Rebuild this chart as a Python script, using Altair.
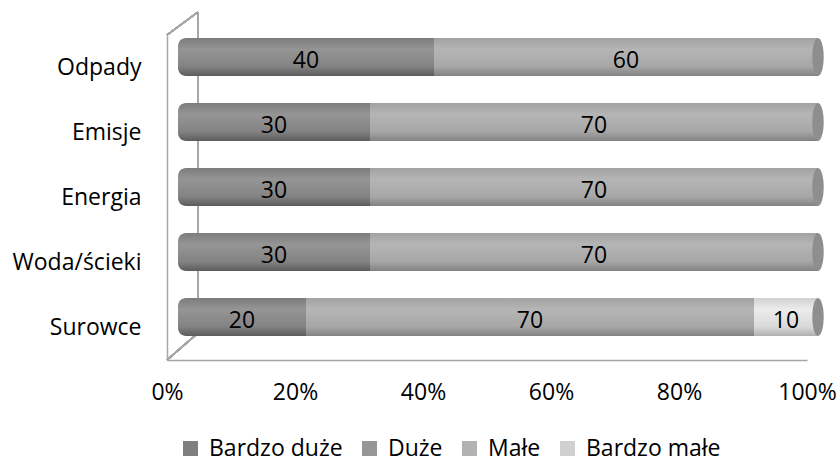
import altair as alt
import pandas as pd
import numpy as np

categories = ["Odpady", "Emisje", "Energia", "Woda/ścieki", "Surowce"]
series = ["Bardzo duże", "Duże", "Małe", "Bardzo małe"]
bardzo_duze = [0, 0, 0, 0, 0]
duze = [40, 30, 30, 30, 20]
male = [60, 70, 70, 70, 70]
bardzo_male = [0, 0, 0, 0, 10]
tick_values = [0, 0.2, 0.4, 0.6, 0.8, 1.0]

legend_colors = ["#7f7f7f", "#969696", "#b2b2b2", "#d0d0d0"]

vals = np.array([bardzo_duze, duze, male, bardzo_male], dtype=float)  # series x cats
totals = vals.sum(axis=0)
rows = []
for j, c in enumerate(categories):
    cum = 0.0
    for i, s in enumerate(series):
        v = vals[i, j]
        start = cum / totals[j]
        cum += v
        end = cum / totals[j]
        rows.append({"cat": c, "series": s, "value": v, "start": start,
                     "end": end, "mid": (start + end) / 2})
df = pd.DataFrame(rows)

FONT = "Open Sans"
FS = 23
XOFF = 11
YOFF = -10.5
BAR = 38

def grad(stops):
    return alt.Gradient(
        gradient="linear", x1=0, x2=0, y1=0, y2=1,
        stops=[alt.GradientStop(offset=o, color=c) for o, c in stops],
    )

fills = {
    "Bardzo duże": grad([(0, "#6a6a6a"), (0.3, "#858585"), (0.75, "#707070"), (1, "#4a4a4a")]),
    "Duże": grad([(0, "#7c7c7c"), (0.3, "#959595"), (0.75, "#838383"), (1, "#5c5c5c")]),
    "Małe": grad([(0, "#a2a2a2"), (0.3, "#b5b5b5"), (0.75, "#a7a7a7"), (1, "#828282")]),
    "Bardzo małe": grad([(0, "#d0d0d0"), (0.3, "#ececec"), (0.75, "#dadada"), (1, "#b0b0b0")]),
}

x_scale = alt.Scale(domain=[0, 1], nice=False, zero=True)
y_enc = alt.Y("cat:N", sort=categories,
              scale=alt.Scale(paddingInner=0, paddingOuter=0),
              axis=alt.Axis(title=None, ticks=False, labelPadding=26,
                            labelFontSize=FS, labelFont=FONT, labelColor="#000000",
                            domain=True, domainColor="#a6a6a6", domainWidth=1.5))
x_enc = alt.X("start:Q", scale=x_scale,
              axis=alt.Axis(title=None, values=tick_values, format=".0%",
                            ticks=False, grid=False, labelPadding=21,
                            labelFontSize=FS, labelFont=FONT, labelColor="#000000",
                            domain=True, domainColor="#a6a6a6", domainWidth=1.5,
                            labelFlush=False))

base = alt.Chart(df)

# 3D wall depth lines (decoration)
frame_style = dict(color="#a6a6a6", strokeWidth=1.5)
wall = [
    alt.Chart(df).mark_rule(**frame_style).encode(
        x=alt.value(0), x2=alt.value(31), y=alt.value(0), y2=alt.value(-23)),
    alt.Chart(df).mark_rule(**frame_style).encode(
        x=alt.value(31), x2=alt.value(31), y=alt.value(-23), y2=alt.value(298)),
    alt.Chart(df).mark_rule(**frame_style).encode(
        x=alt.value(0), x2=alt.value(31), y=alt.value(325), y2=alt.value(298)),
]

# invisible layer for legend
legend_layer = base.mark_square(opacity=0).encode(
    x=x_enc, y=y_enc,
    color=alt.Color("series:N", sort=series,
                    scale=alt.Scale(domain=series, range=legend_colors),
                    legend=alt.Legend(title=None, orient="none", direction="horizontal",
                                      legendX=12, legendY=402, symbolType="square",
                                      symbolSize=225, symbolOpacity=1, symbolStrokeWidth=0,
                                      labelFontSize=FS, labelFont=FONT, labelColor="#000000",
                                      labelOffset=7, columnPadding=15, padding=0,
                                      gridAlign="none")),
)

bar_layers = []
for s in series:
    kw = dict(fill=fills[s], size=BAR, xOffset=XOFF, x2Offset=XOFF, yOffset=YOFF)
    if s == "Duże":
        kw.update(cornerRadiusTopLeft=8, cornerRadiusBottomLeft=8)
    bar_layers.append(
        base.transform_filter((alt.datum.series == s) & (alt.datum.value > 0))
        .mark_bar(**kw)
        .encode(x=x_enc, x2="end:Q", y=y_enc)
    )

cap = base.transform_filter((alt.datum.end == 1) & (alt.datum.value > 0)).mark_point(
    shape="M0,-1 A0.3,1 0 1,1 0,1 A0.3,1 0 1,1 0,-1 Z",
    filled=True, fill="#8e8e8e", opacity=1, size=BAR * BAR, strokeWidth=0,
    xOffset=XOFF, yOffset=YOFF,
).encode(x=alt.X("end:Q", scale=x_scale), y=y_enc)

labels = base.transform_filter(alt.datum.value > 0).mark_text(
    fontSize=FS, font=FONT, color="#000000", baseline="middle",
    xOffset=XOFF, yOffset=YOFF + 4,
).encode(x=alt.X("mid:Q", scale=x_scale), y=y_enc, text=alt.Text("value:Q", format=".0f"))

chart = alt.layer(*wall, legend_layer, *bar_layers, cap, labels).properties(
    width=640, height=325,
    autosize=alt.AutoSizeParams(type="none"),
    padding={"left": 167, "top": 35, "right": 30, "bottom": 104},
    background="white",
).configure_view(stroke=None)

chart.save("out.html", embed_options={"renderer": "svg", "actions": False})
